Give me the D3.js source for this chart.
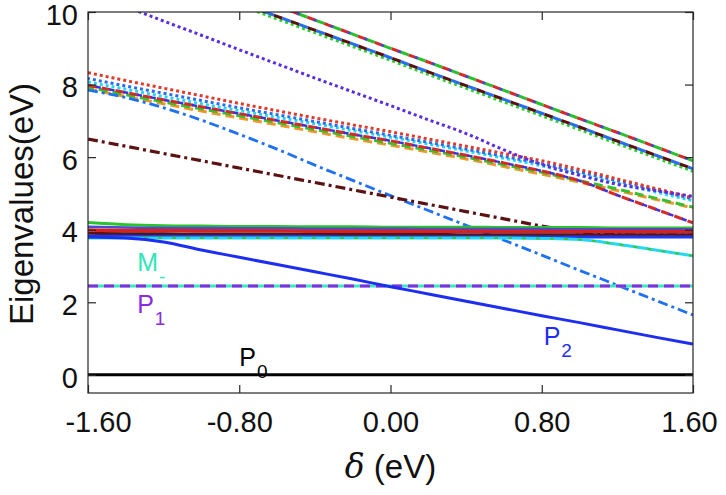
<!DOCTYPE html>
<html>
<head>
<meta charset="utf-8">
<script src="https://cdn.jsdelivr.net/npm/d3@7"></script>
<style>
  html, body { margin: 0; padding: 0; background: #fff; }
  svg { display: block; }
  text { font-family: "Liberation Sans", Arial, Helvetica, sans-serif; }
</style>
</head>
<body>
<div id="chart"></div>
<script>
// ---------------- DATA ----------------
const deltas = [-1.6,-1.4,-1.2,-1.0,-0.8,-0.6,-0.4,-0.2,0.0,0.2,0.4,0.6,0.8,1.0,1.2,1.4,1.6];
const xTicks = [-1.6,-0.8,0.0,0.8,1.6];
const xTickLabels = ["-1.60","-0.80","0.00","0.80","1.60"];
const yTicks = [0,2,4,6,8,10];
const yTickLabels = ["0","2","4","6","8","10"];

const p0        = [0,0,0,0,0,0,0,0,0,0,0,0,0,0,0,0,0];
const mMinus    = [2.45,2.45,2.45,2.45,2.45,2.45,2.45,2.45,2.45,2.45,2.45,2.45,2.45,2.45,2.45,2.45,2.45];
const p1        = [2.45,2.45,2.45,2.45,2.45,2.45,2.45,2.45,2.45,2.45,2.45,2.45,2.45,2.45,2.45,2.45,2.45];
const p2        = [3.80,3.77,3.66,3.44,3.24,3.04,2.84,2.64,2.43,2.23,2.03,1.83,1.63,1.44,1.24,1.04,0.85];

const bandGreen  = [4.20,4.14,4.11,4.10,4.09,4.09,4.08,4.08,4.07,4.07,4.07,4.06,4.06,4.06,4.05,4.05,4.05];
const bandSlate  = [4.08,4.06,4.05,4.05,4.04,4.04,4.03,4.03,4.03,4.02,4.02,4.02,4.02,4.01,4.01,4.01,4.01];
const bandRed    = [3.99,3.98,3.98,3.97,3.97,3.97,3.96,3.96,3.96,3.96,3.96,3.95,3.95,3.95,3.95,3.95,3.95];
const bandMaroon = [3.90,3.89,3.89,3.88,3.88,3.88,3.87,3.87,3.87,3.87,3.86,3.86,3.86,3.86,3.86,3.86,3.86];
const bandBlue   = [3.82,3.82,3.81,3.81,3.81,3.81,3.81,3.80,3.80,3.80,3.80,3.80,3.80,3.80,3.80,3.80,3.80];
const cyanBend   = [3.77,3.77,3.77,3.77,3.77,3.77,3.77,3.77,3.77,3.77,3.77,3.77,3.76,3.73,3.60,3.44,3.28];

const maroonDash  = [6.50,6.30,6.10,5.90,5.70,5.50,5.30,5.10,4.90,4.70,4.50,4.30,4.10,3.93,3.86,3.85,3.85];
const blueDashDot = [7.85,7.64,7.36,7.02,6.63,6.22,5.78,5.36,4.94,4.53,4.12,3.71,3.30,2.88,2.47,2.06,1.65];

const bundleRedDot     = [8.33,8.11,7.90,7.69,7.48,7.28,7.08,6.89,6.70,6.50,6.30,6.10,5.90,5.66,5.40,5.14,4.88];
const bundleBlueDot    = [8.17,7.96,7.76,7.56,7.36,7.17,6.98,6.79,6.60,6.41,6.22,6.02,5.82,5.59,5.35,5.10,4.85];
const bundleCyanDot    = [8.07,7.87,7.67,7.47,7.28,7.10,6.92,6.73,6.55,6.36,6.17,5.97,5.76,5.52,5.28,5.04,4.80];
const bundlePurpleDash = [7.98,7.78,7.58,7.39,7.20,7.01,6.82,6.63,6.45,6.25,6.05,5.84,5.62,5.35,4.95,4.57,4.19];
const bundleGreenDash  = [7.93,7.72,7.52,7.33,7.14,6.95,6.76,6.57,6.38,6.19,6.00,5.79,5.58,5.35,5.12,4.87,4.62];
const bundleOrangeDash = [7.88,7.67,7.47,7.27,7.08,6.89,6.70,6.51,6.33,6.14,5.95,5.74,5.53,5.31,5.08,4.84,4.60];

const purpleDotSteep = [10.55,10.15,9.75,9.36,8.96,8.57,8.18,7.80,7.42,7.03,6.65,6.20,5.80,5.50,5.25,5.08,4.92];

const topUpper    = [12.11,11.72,11.33,10.94,10.56,10.17,9.78,9.39,9.00,8.62,8.23,7.84,7.45,7.06,6.68,6.29,5.90];
const topLower    = [11.79,11.41,11.03,10.65,10.26,9.88,9.50,9.12,8.74,8.35,7.97,7.59,7.21,6.83,6.44,6.06,5.68];
const topLowerDot = [11.72,11.34,10.96,10.58,10.19,9.81,9.43,9.05,8.67,8.28,7.90,7.52,7.14,6.76,6.37,5.99,5.61];

// ---------------- STYLES (draw order back -> front) ----------------
const seriesStyles = [
  {data: topUpper,         color: "#d62a2a", w: 3,   dash: "9,9",  off: 0},
  {data: topUpper,         color: "#2bc02b", w: 3,   dash: "9,9",  off: 9},
  {data: topUpper,         color: "#3a4ae6", w: 2.5, dash: "3,15", off: 11},
  {data: topLowerDot,      color: "#2bd02b", w: 3,   dash: "3,3",  off: 0},
  {data: topLower,         color: "#5a1010", w: 3,   dash: "9,9",  off: 0},
  {data: topLower,         color: "#2a6cf0", w: 3,   dash: "9,9",  off: 9},
  {data: bundleOrangeDash, color: "#f0962a", w: 3,   dash: "9,5",  off: 0},
  {data: bundleGreenDash,  color: "#36c030", w: 3,   dash: "9,5",  off: 3},
  {data: bundlePurpleDash, color: "#d42a2a", w: 3,   dash: "9,5",  off: 0},
  {data: bundlePurpleDash, color: "#4030d8", w: 2.5, dash: "5,9",  off: 6},
  {data: bundleCyanDot,    color: "#22d8f5", w: 3,   dash: "3,3",  off: 0},
  {data: bundleBlueDot,    color: "#2a6cf0", w: 3,   dash: "3,3",  off: 1},
  {data: bundleRedDot,     color: "#e03a2a", w: 3,   dash: "3,3",  off: 0},
  {data: purpleDotSteep,   color: "#5a2ee0", w: 3,   dash: "3,3",  off: 0},
  {data: blueDashDot,      color: "#1e70f5", w: 2.8, dash: "10,4,3,4", off: 0},
  {data: maroonDash,       color: "#5c1212", w: 3.2, dash: "10,4,3,4", off: 0},
  {data: bandGreen,        color: "#2cc22c", w: 3,   dash: null},
  {data: bandSlate,        color: "#4a4ad6", w: 2.5, dash: null},
  {data: bandRed,          color: "#d42222", w: 3.5, dash: null},
  {data: bandMaroon,       color: "#5c1212", w: 3,   dash: null},
  {data: bandBlue,         color: "#1d3af0", w: 3,   dash: null},
  {data: cyanBend,         color: "#25d8f2", w: 3,   dash: null},
  {data: cyanBend,         color: "#3ac83a", w: 2,   dash: "4,10", off: 0},
  {data: mMinus,           color: "#3de8c0", w: 3,   dash: null},
  {data: p1,               color: "#8a2be2", w: 3,   dash: "10,6", off: 0},
  {data: p2,               color: "#1e2ef0", w: 3,   dash: null},
  {data: p0,               color: "#000000", w: 3,   dash: null}
];

const labels = [
  {main: "M", sub: "-", color: "#2ee6b8", x: -1.34, y: 2.85},
  {main: "P", sub: "1", color: "#8a2be2", x: -1.34, y: 1.70},
  {main: "P", sub: "0", color: "#000000", x: -0.80, y: 0.25},
  {main: "P", sub: "2", color: "#1e2ef0", x: 0.81, y: 0.82}
];

// ---------------- CHART ----------------
const W = 726, H = 495;
const margin = {left: 88, right: 33, top: 12, bottom: 102};
const svg = d3.select("#chart").append("svg").attr("width", W).attr("height", H);

const x = d3.scaleLinear().domain([-1.6, 1.6]).range([margin.left, W - margin.right]);
const y = d3.scaleLinear().domain([-0.5, 10]).range([H - margin.bottom, margin.top]);

svg.append("defs").append("clipPath").attr("id", "clip")
  .append("rect")
  .attr("x", x(-1.6)).attr("y", y(10))
  .attr("width", x(1.6) - x(-1.6)).attr("height", y(-0.5) - y(10));

const plot = svg.append("g").attr("clip-path", "url(#clip)");
const line = d3.line().x((d, i) => x(deltas[i])).y(d => y(d)).curve(d3.curveMonotoneX);

seriesStyles.forEach(s => {
  const p = plot.append("path")
    .attr("d", line(s.data))
    .attr("fill", "none")
    .attr("stroke", s.color)
    .attr("stroke-width", s.w)
    .attr("stroke-linecap", "butt");
  if (s.dash) p.attr("stroke-dasharray", s.dash).attr("stroke-dashoffset", s.off || 0);
});

// Frame & axes
const axisColor = "#262626";
const tickLen = 8;
svg.append("rect")
  .attr("x", x(-1.6)).attr("y", y(10))
  .attr("width", x(1.6) - x(-1.6)).attr("height", y(-0.5) - y(10))
  .attr("fill", "none").attr("stroke", axisColor).attr("stroke-width", 1.2);

const axL = d3.axisLeft(y).tickValues(yTicks).tickSizeInner(-tickLen).tickSizeOuter(0).tickPadding(10)
  .tickFormat((d, i) => yTickLabels[i]);
const gL = svg.append("g").attr("transform", `translate(${x(-1.6)},0)`).call(axL);
const axR = d3.axisRight(y).tickValues(yTicks).tickSizeInner(-tickLen).tickSizeOuter(0).tickFormat("");
const gR = svg.append("g").attr("transform", `translate(${x(1.6)},0)`).call(axR);
const axB = d3.axisBottom(x).tickValues(xTicks).tickSizeInner(-tickLen).tickSizeOuter(0).tickPadding(18)
  .tickFormat((d, i) => xTickLabels[i]);
const gB = svg.append("g").attr("transform", `translate(0,${y(-0.5)})`).call(axB);
const axT = d3.axisTop(x).tickValues(xTicks).tickSizeInner(-tickLen).tickSizeOuter(0).tickFormat("");
const gT = svg.append("g").attr("transform", `translate(0,${y(10)})`).call(axT);

[gL, gR, gB, gT].forEach(g => {
  g.select(".domain").remove();
  g.selectAll(".tick line").attr("stroke", axisColor).attr("stroke-width", 1.2);
  g.selectAll(".tick text").attr("fill", "#111").style("font-size", "29px")
    .style("font-family", "'Liberation Sans', Arial, sans-serif");
});
gL.selectAll(".tick text").attr("dy", "0.42em");
// nudge edge labels of bottom axis as in the reference
gB.selectAll(".tick text").attr("dx", (d, i) => i === 0 ? 10 : (i === xTicks.length - 1 ? -4 : 0));

// Axis titles
svg.append("text")
  .attr("transform", `translate(33,204) rotate(-90)`)
  .attr("text-anchor", "middle")
  .style("font-size", "33px").attr("fill", "#111")
  .text("Eigenvalues(eV)");

const xt = svg.append("text")
  .attr("x", (x(-1.6) + x(1.6)) / 2).attr("y", 478)
  .attr("text-anchor", "middle")
  .style("font-size", "33px").attr("fill", "#111");
xt.append("tspan").style("font-style", "italic").style("font-family", "'DejaVu Serif', 'Liberation Serif', serif").text("δ");
xt.append("tspan").text(" (eV)");

// Curve labels
labels.forEach(l => {
  const t = svg.append("text")
    .attr("x", x(l.x)).attr("y", y(l.y))
    .attr("fill", l.color).style("font-size", "25px");
  t.append("tspan").text(l.main);
  t.append("tspan").attr("dy", 12).attr("dx", 1).style("font-size", "19px").text(l.sub);
});
</script>
</body>
</html>
